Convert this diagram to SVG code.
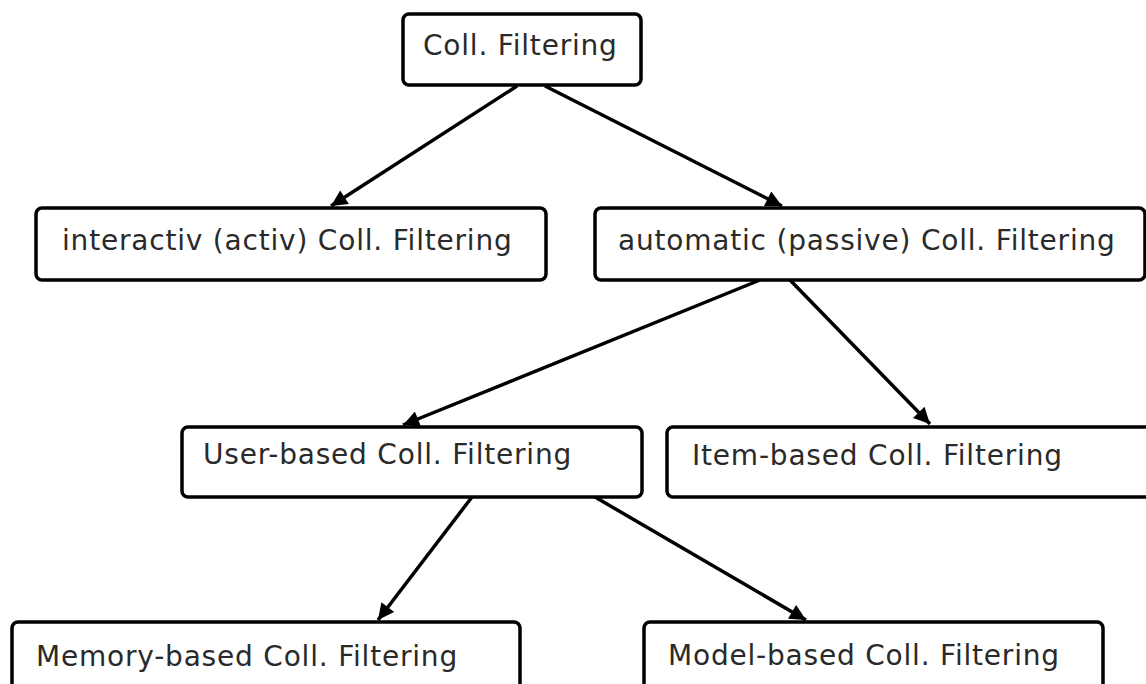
<svg xmlns="http://www.w3.org/2000/svg" width="1146" height="684" viewBox="0 0 1146 684">
<defs>
<style>
.box{fill:#fff;stroke:#000;stroke-width:3.5}
.lbl{font-family:"DejaVu Sans",Verdana,sans-serif;font-size:28px;fill:#2a2a2a;letter-spacing:0.8px}
.edge{stroke:#000;stroke-width:3.5;fill:none;marker-end:url(#ah)}
</style>
<marker id="ah" viewBox="0 0 10 10" refX="10" refY="5" markerWidth="5.5" markerHeight="4.6" orient="auto" markerUnits="strokeWidth">
<path d="M0,0 L10,5 L0,10 z" fill="#000"/>
</marker>
</defs>
<rect width="1146" height="684" fill="#fff"/>
<g id="connectors">
<line class="edge" x1="517" y1="86" x2="331" y2="206"/>
<line class="edge" x1="545" y1="86" x2="782" y2="206"/>
<line class="edge" x1="760" y1="280" x2="403" y2="425"/>
<line class="edge" x1="790" y1="280" x2="930" y2="424"/>
<line class="edge" x1="472" y1="497" x2="378" y2="620"/>
<line class="edge" x1="595" y1="497" x2="806" y2="620"/>
</g>
<g id="n-coll">
<rect class="box" x="403" y="14" width="238" height="71" rx="6"/>
<text class="lbl" x="423" y="55">Coll. Filtering</text>
</g>
<g id="n-interactiv">
<rect class="box" x="36" y="208" width="510" height="72" rx="6"/>
<text class="lbl" x="62" y="250">interactiv (activ) Coll. Filtering</text>
</g>
<g id="n-automatic">
<rect class="box" x="595" y="208" width="550" height="72" rx="6"/>
<text class="lbl" x="618" y="250">automatic (passive) Coll. Filtering</text>
</g>
<g id="n-user">
<rect class="box" x="182" y="427" width="460" height="70" rx="6"/>
<text class="lbl" x="203" y="464">User-based Coll. Filtering</text>
</g>
<g id="n-item">
<rect class="box" x="667" y="427" width="490" height="70" rx="6"/>
<text class="lbl" x="692" y="465">Item-based Coll. Filtering</text>
</g>
<g id="n-memory">
<rect class="box" x="12" y="622" width="508" height="80" rx="6"/>
<text class="lbl" x="36" y="666">Memory-based Coll. Filtering</text>
</g>
<g id="n-model">
<rect class="box" x="644" y="622" width="459" height="80" rx="6"/>
<text class="lbl" x="668" y="665">Model-based Coll. Filtering</text>
</g>
</svg>
